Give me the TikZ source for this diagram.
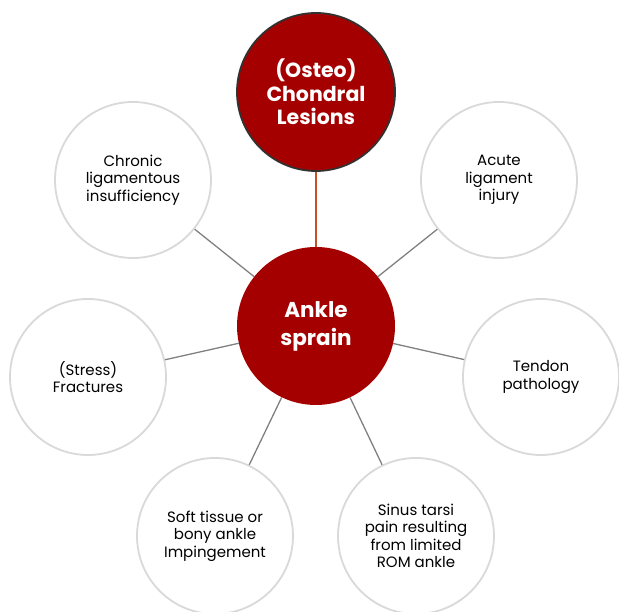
\documentclass[tikz,border=0pt]{standalone}
\usepackage{fontspec}
\setmainfont{Poppins}
\definecolor{darkred}{RGB}{165,0,0}
\definecolor{ringgrey}{RGB}{217,217,217}
\definecolor{linegrey}{RGB}{128,128,128}
\definecolor{edgedark}{RGB}{50,50,50}
\definecolor{topline}{RGB}{200,80,40}
\tikzset{
  leaf/.style={circle, draw=ringgrey, line width=1.8pt, fill=white, minimum size=156pt, inner sep=0pt, align=center, font=\fontsize{15}{17.5}\selectfont, text=black},
  hub/.style={circle, fill=darkred, minimum size=158pt, inner sep=0pt, align=center, text=white},
  link/.style={draw=linegrey, line width=1.3pt}
}
\begin{document}
\begin{tikzpicture}[x=1pt,y=1pt]
\useasboundingbox (0,0) rectangle (619,612);
\node[hub, font=\fontsize{21.5}{28}\bfseries\selectfont] (ankle) at (316,286) {Ankle\\sprain};
\node[hub, draw=edgedark, line width=1.8pt, font=\fontsize{20.5}{23.5}\bfseries\selectfont] (osteo) at (316,520) {(Osteo)\\Chondral\\Lesions};
\node[leaf] (chronic) at (133,432) {Chronic\\ligamentous\\insufficiency};
\node[leaf] (acute) at (499,432) {Acute\\ligament\\injury};
\node[leaf] (stress) at (88,235) {(Stress)\\Fractures};
\node[leaf] (tendon) at (541,235) {Tendon\\pathology};
\node[leaf] (soft) at (215,76) {Soft tissue or\\bony ankle\\Impingement};
\node[leaf] (sinus) at (416,76) {Sinus tarsi\\pain resulting\\from limited\\ROM ankle};
\draw[draw=topline, line width=1.3pt] (osteo) -- (ankle);
\draw[link] (chronic) -- (ankle);
\draw[link] (acute) -- (ankle);
\draw[link] (stress) -- (ankle);
\draw[link] (tendon) -- (ankle);
\draw[link] (soft) -- (ankle);
\draw[link] (sinus) -- (ankle);
\end{tikzpicture}
\end{document}
